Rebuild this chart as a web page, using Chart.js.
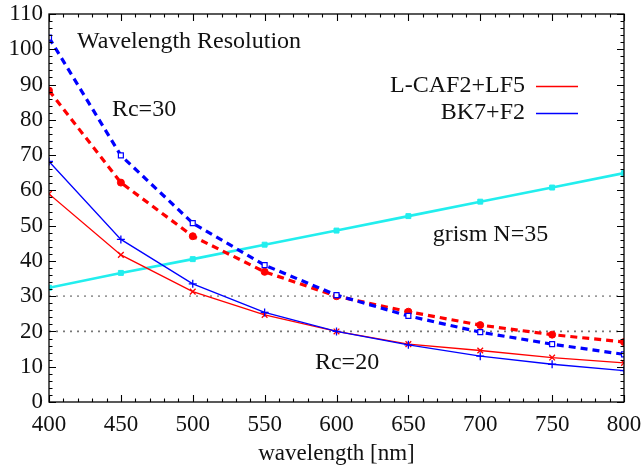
<!DOCTYPE html>
<html>
<head>
<meta charset="utf-8">
<script src="https://cdn.jsdelivr.net/npm/chart.js@4/dist/chart.umd.min.js"></script>
<style>
html,body{margin:0;padding:0;background:#fff;}
#wrap{width:644px;height:468px;position:relative;}
</style>
</head>
<body>
<div id="wrap"><canvas id="c" width="644" height="468"></canvas></div>
<script>
const wavelengths = [400, 450, 500, 550, 600, 650, 700, 750, 800];
const grismN35 = [32.4, 36.6, 40.5, 44.6, 48.6, 52.7, 56.8, 60.8, 64.9];
const lcafRc20 = [59.0, 41.7, 31.3, 24.7, 20.0, 16.4, 14.6, 12.6, 11.1];
const bk7Rc20 = [68.2, 46.1, 33.5, 25.4, 20.0, 16.2, 13.0, 10.7, 8.9];
const lcafRc30 = [88.3, 62.2, 47.0, 36.9, 30.0, 25.6, 21.8, 19.1, 17.0];
const bk7Rc30 = [103.3, 69.9, 50.7, 38.8, 30.3, 24.4, 19.8, 16.4, 13.5];
const refLevels = [30, 20];
const xTicks = [400, 450, 500, 550, 600, 650, 700, 750, 800];
const yTicks = [0, 10, 20, 30, 40, 50, 60, 70, 80, 90, 100, 110];
const legendLabels = ['L-CAF2+LF5', 'BK7+F2'];
const notes = [
  {text: 'Wavelength Resolution', x: 419.5, y: 102.1},
  {text: 'Rc=30', x: 443.8, y: 82.8},
  {text: 'grism N=35', x: 666.9, y: 47.3},
  {text: 'Rc=20', x: 585.0, y: 11.0}
];

const FONT = "'Liberation Serif', 'Times New Roman', serif";
const pts = arr => wavelengths.map((w, i) => ({x: w, y: arr[i]}));
const lvl = v => [{x: xTicks[0], y: v}, {x: xTicks[xTicks.length - 1], y: v}];

const datasets = [
  {data: pts(bk7Rc30), borderColor: '#0000ff', borderWidth: 3.2, borderDash: [7, 5],
   pointStyle: 'rect', pointRadius: 3.5, pointBackgroundColor: '#ffffff', pointBorderColor: '#0000ff', pointBorderWidth: 1.2},
  {data: pts(lcafRc30), borderColor: '#ff0000', borderWidth: 3.2, borderDash: [7, 5],
   pointStyle: 'circle', pointRadius: 3.5, pointBackgroundColor: '#ff0000', pointBorderColor: '#ff0000', pointBorderWidth: 1},
  {data: pts(bk7Rc20), borderColor: '#0000ff', borderWidth: 1.3,
   pointStyle: 'cross', pointRadius: 4, pointBorderColor: '#0000ff', pointBorderWidth: 1.3},
  {data: pts(lcafRc20), borderColor: '#ff0000', borderWidth: 1.3,
   pointStyle: 'crossRot', pointRadius: 4, pointBorderColor: '#ff0000', pointBorderWidth: 1.3},
  {data: pts(grismN35), borderColor: '#22eeee', borderWidth: 2.6,
   pointStyle: 'rect', pointRadius: 3.5, pointBackgroundColor: '#22eeee', pointBorderColor: '#22eeee', pointBorderWidth: 1},
  {data: lvl(refLevels[0]), borderColor: '#9a9a9a', borderWidth: 1.8, borderDash: [2, 5], pointRadius: 0},
  {data: lvl(refLevels[1]), borderColor: '#777777', borderWidth: 1.8, borderDash: [2, 5], pointRadius: 0}
];
datasets.forEach(d => { d.fill = false; d.tension = 0; d.borderCapStyle = 'butt'; });

const framePlugin = {
  id: 'frame',
  afterDraw(chart) {
    const ctx = chart.ctx, a = chart.chartArea;
    const xs = chart.scales.x, ys = chart.scales.y;
    ctx.save();
    ctx.strokeStyle = '#000';
    ctx.lineWidth = 1.3;
    ctx.strokeRect(a.left, a.top, a.right - a.left, a.bottom - a.top);
    ctx.lineWidth = 1.1;
    ctx.beginPath();
    for (let v = xs.min; v <= xs.max + 1e-6; v += 10) {
      const px = Math.round(xs.getPixelForValue(v)) + 0.5;
      const L = (v % 50 === 0) ? 7 : 3.5;
      ctx.moveTo(px, a.bottom); ctx.lineTo(px, a.bottom - L);
      ctx.moveTo(px, a.top); ctx.lineTo(px, a.top + L);
    }
    for (let v = ys.min; v <= ys.max + 1e-6; v += 2) {
      const py = Math.round(ys.getPixelForValue(v)) + 0.5;
      const L = (v % 10 === 0) ? 7 : 3.5;
      ctx.moveTo(a.left, py); ctx.lineTo(a.left + L, py);
      ctx.moveTo(a.right, py); ctx.lineTo(a.right - L, py);
    }
    ctx.stroke();

    ctx.fillStyle = '#111';
    ctx.font = '24px ' + FONT;
    ctx.textBaseline = 'middle';
    ctx.textAlign = 'left';
    notes.forEach(n => ctx.fillText(n.text, xs.getPixelForValue(n.x), ys.getPixelForValue(n.y)));

    // legend
    const lx = 525, ly = [86, 113], cols = ['#ff0000', '#0000ff'];
    ctx.textAlign = 'right';
    legendLabels.forEach((t, i) => {
      ctx.fillText(t, lx, ly[i]);
      ctx.strokeStyle = cols[i];
      ctx.lineWidth = 1.3;
      ctx.beginPath();
      ctx.moveTo(536, ly[i] + 0.5); ctx.lineTo(578, ly[i] + 0.5);
      ctx.stroke();
    });
    ctx.restore();
  }
};

new Chart(document.getElementById('c'), {
  type: 'line',
  data: {datasets},
  options: {
    responsive: false,
    animation: false,
    devicePixelRatio: 1,
    layout: {padding: {left: 0, top: 14, right: 20, bottom: 0}},
    plugins: {legend: {display: false}, tooltip: {enabled: false}},
    scales: {
      x: {
        type: 'linear', min: 400, max: 800,
        afterBuildTicks: s => { s.ticks = xTicks.map(v => ({value: v})); },
        afterFit: s => { s.height = 66; s.paddingLeft = 0; s.paddingRight = 0; },
        grid: {display: false, drawTicks: false},
        border: {display: false},
        ticks: {color: '#111', font: {family: FONT, size: 23}, padding: 9, maxRotation: 0, autoSkip: false},
        title: {display: true, text: 'wavelength [nm]', color: '#111', font: {family: FONT, size: 23}, padding: {top: 2, bottom: 0}}
      },
      y: {
        min: 0, max: 110,
        afterBuildTicks: s => { s.ticks = yTicks.map(v => ({value: v})); },
        afterFit: s => { s.width = 49; s.paddingTop = 0; s.paddingBottom = 0; },
        grid: {display: false, drawTicks: false},
        border: {display: false},
        ticks: {color: '#111', font: {family: FONT, size: 23}, padding: 6, autoSkip: false}
      }
    }
  },
  plugins: [framePlugin]
});
</script>
</body>
</html>
